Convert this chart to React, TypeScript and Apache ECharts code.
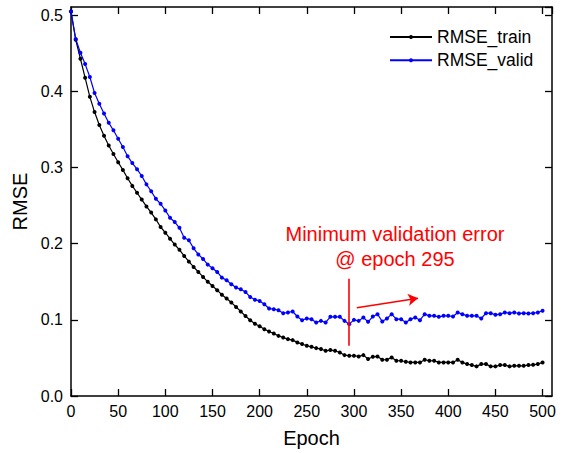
import React, { useEffect, useRef } from 'react';
import * as echarts from 'echarts';

const epochs = [
  0, 5, 10, 15, 20, 25, 30, 35, 40, 45, 50, 55, 60, 65, 70, 75, 80, 85, 90, 95,
  100, 105, 110, 115, 120, 125, 130, 135, 140, 145, 150, 155, 160, 165, 170, 175, 180, 185, 190, 195,
  200, 205, 210, 215, 220, 225, 230, 235, 240, 245, 250, 255, 260, 265, 270, 275, 280, 285, 290, 295,
  300, 305, 310, 315, 320, 325, 330, 335, 340, 345, 350, 355, 360, 365, 370, 375, 380, 385, 390, 395,
  400, 405, 410, 415, 420, 425, 430, 435, 440, 445, 450, 455, 460, 465, 470, 475, 480, 485, 490, 495,
  500,
];

const rmseTrain = [
  0.505, 0.468, 0.443, 0.418, 0.393, 0.373, 0.356, 0.342, 0.329, 0.318, 0.307, 0.297, 0.286, 0.276, 0.267, 0.258, 0.249, 0.241, 0.232, 0.222,
  0.2145, 0.2066, 0.199, 0.192, 0.184, 0.1765, 0.1695, 0.163, 0.1564, 0.150, 0.1446, 0.139, 0.133, 0.128, 0.1228, 0.117, 0.111, 0.105, 0.0995, 0.095,
  0.0915, 0.0878, 0.0848, 0.0821, 0.079, 0.0769, 0.0747, 0.0734, 0.0704, 0.0682, 0.066, 0.0646, 0.0629, 0.0616, 0.0594, 0.0603, 0.0594, 0.0572, 0.0537, 0.0529,
  0.0529, 0.052, 0.0537, 0.0485, 0.0515, 0.052, 0.0476, 0.0476, 0.0507, 0.0463, 0.0463, 0.045, 0.0441, 0.0441, 0.0441, 0.0476, 0.0463, 0.0463, 0.0441, 0.0441,
  0.0441, 0.0441, 0.0476, 0.0441, 0.0419, 0.0406, 0.0389, 0.0419, 0.0419, 0.0389, 0.0389, 0.0406, 0.0406, 0.0389, 0.0397, 0.0397, 0.0397, 0.0406, 0.041, 0.0419,
  0.0441,
];

const rmseValid = [
  0.505, 0.469, 0.451, 0.436, 0.419, 0.398, 0.384, 0.371, 0.359, 0.349, 0.338, 0.327, 0.315, 0.306, 0.298, 0.289, 0.278, 0.269, 0.259, 0.2525,
  0.2438, 0.2342, 0.2285, 0.221, 0.208, 0.2045, 0.194, 0.186, 0.180, 0.1726, 0.1678, 0.163, 0.1555, 0.152, 0.1468, 0.1424, 0.1402, 0.1367, 0.130, 0.1265,
  0.1249, 0.1206, 0.1149, 0.114, 0.1127, 0.1088, 0.1097, 0.111, 0.1044, 0.0996, 0.1018, 0.1009, 0.0966, 0.0987, 0.0966, 0.104, 0.104, 0.104, 0.0987, 0.0944,
  0.100, 0.0987, 0.1031, 0.0974, 0.1044, 0.1075, 0.0979, 0.1018, 0.1075, 0.1009, 0.1009, 0.0966, 0.1009, 0.1031, 0.0996, 0.1075, 0.1053, 0.1053, 0.104, 0.1053,
  0.1053, 0.1044, 0.1097, 0.1075, 0.1053, 0.1053, 0.1053, 0.1018, 0.1088, 0.1088, 0.1066, 0.1075, 0.1097, 0.1088, 0.1097, 0.1084, 0.1088, 0.1084, 0.1088, 0.1097,
  0.112,
];

const seriesNames = ['RMSE_train', 'RMSE_valid'];
const annotationLines = ['Minimum validation error', '@ epoch 295'];
const minEpoch = 295;

const FONT = 'Liberation Sans, Arial, sans-serif';

export default function App() {
  const ref = useRef<HTMLDivElement>(null);

  useEffect(() => {
    document.body.style.margin = '0';
    const chart = echarts.init(ref.current!, null, { renderer: 'svg' });

    const trainData = epochs.map((e, i) => [e, rmseTrain[i]]);
    const validData = epochs.map((e, i) => [e, rmseValid[i]]);

    const axisLine = { show: true, onZero: false, lineStyle: { color: '#000', width: 1.5 } };
    const tick = { show: true, inside: true, length: 7, lineStyle: { color: '#000', width: 1.3 } };

    const xBase = { type: 'value', min: 0, max: 510, interval: 50, splitLine: { show: false } };
    const yBase = { type: 'value', min: 0, max: 0.511, interval: 0.1, splitLine: { show: false } };

    chart.setOption({
      animation: false,
      backgroundColor: '#fff',
      textStyle: { fontFamily: FONT },
      grid: { left: 71, right: 14, top: 7, bottom: 56, containLabel: false },
      legend: {
        orient: 'vertical',
        left: 384,
        top: 22,
        itemWidth: 42,
        itemHeight: 5,
        itemGap: 3.3,
        data: seriesNames,
        textStyle: { fontSize: 17.5, color: '#000', fontFamily: FONT, lineHeight: 20 },
      },
      xAxis: [
        {
          ...xBase,
          position: 'bottom',
          name: 'Epoch',
          nameLocation: 'middle',
          nameGap: 32,
          nameTextStyle: { fontSize: 20, color: '#000', fontFamily: FONT },
          axisLine,
          axisTick: tick,
          axisLabel: {
            color: '#000',
            fontSize: 16,
            fontFamily: FONT,
            margin: 7,
            showMaxLabel: false,
            formatter: (v: number) => (v % 50 === 0 ? String(v) : ''),
          },
        },
        {
          ...xBase,
          position: 'top',
          axisLine,
          axisTick: tick,
          axisLabel: { show: false },
        },
      ],
      yAxis: [
        {
          ...yBase,
          position: 'left',
          name: 'RMSE',
          nameLocation: 'middle',
          nameGap: 36,
          nameTextStyle: { fontSize: 20, color: '#000', fontFamily: FONT },
          axisLine,
          axisTick: tick,
          axisLabel: {
            color: '#000',
            fontSize: 16,
            fontFamily: FONT,
            margin: 8,
            showMaxLabel: false,
            formatter: (v: number) => v.toFixed(1),
          },
        },
        {
          ...yBase,
          position: 'right',
          axisLine,
          axisTick: tick,
          axisLabel: { show: false },
        },
      ],
      series: [
        {
          name: seriesNames[0],
          type: 'line',
          data: trainData,
          symbol: 'circle',
          symbolSize: 4,
          showAllSymbol: true,
          color: '#000000',
          lineStyle: { color: '#000000', width: 1.2 },
          itemStyle: { color: '#000000' },
          z: 3,
        },
        {
          name: seriesNames[1],
          type: 'line',
          data: validData,
          symbol: 'circle',
          symbolSize: 4,
          showAllSymbol: true,
          color: '#0000ff',
          lineStyle: { color: '#0000ff', width: 1.2 },
          itemStyle: { color: '#0000ff' },
          z: 3,
          markLine: {
            silent: true,
            animation: false,
            label: { show: false },
            lineStyle: { color: '#ff0000', width: 1.6, type: 'solid' },
            symbolSize: [9, 10],
            data: [
              [
                { coord: [minEpoch, 0.066], symbol: 'none' },
                { coord: [minEpoch, 0.154], symbol: 'none' },
              ],
              [
                { coord: [303, 0.116], symbol: 'none' },
                { coord: [368, 0.1284], symbol: 'arrow' },
              ],
            ],
          },
        },
      ],
      graphic: [
        {
          type: 'text',
          x: 395,
          y: 233.5,
          style: {
            text: annotationLines[0],
            fill: '#ff0000',
            font: `20px ${FONT}`,
            align: 'center',
            verticalAlign: 'middle',
          },
        },
        {
          type: 'text',
          x: 395,
          y: 259,
          style: {
            text: annotationLines[1],
            fill: '#ff0000',
            font: `20px ${FONT}`,
            align: 'center',
            verticalAlign: 'middle',
          },
        },
      ],
    });

    return () => chart.dispose();
  }, []);

  return <div ref={ref} style={{ width: 566, height: 453 }} />;
}
